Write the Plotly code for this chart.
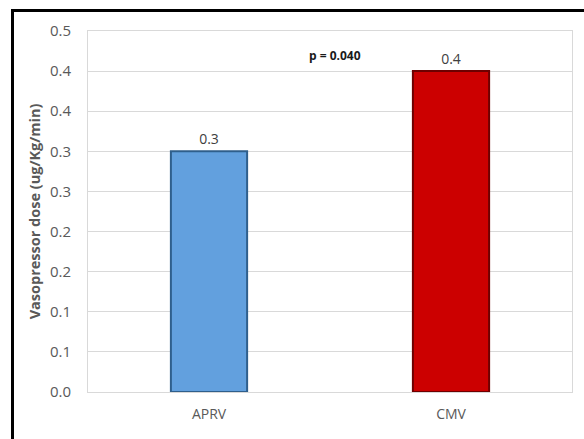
import plotly.graph_objects as go
from decimal import Decimal, ROUND_HALF_UP

# Mean vasopressor dose per ventilation mode
categories = ["APRV", "CMV"]
doses = [0.30, 0.40]
bar_colors = ["#62a0de", "#cc0000"]
edge_colors = ["#2f5f8c", "#6e0000"]

# Axis ticks every 0.05, labelled to one decimal (half-up rounding)
tick_values = [0.0, 0.05, 0.10, 0.15, 0.20, 0.25, 0.30, 0.35, 0.40, 0.45]
tick_labels = ["0.0", "0.1", "0.1", "0.2", "0.2", "0.3", "0.3", "0.4", "0.4", "0.5"]

p_value_text = "p = 0.040"


def one_decimal(v):
    return str(Decimal(str(v)).quantize(Decimal("0.1"), rounding=ROUND_HALF_UP))


font_family = "'Open Sans', sans-serif"
gray = "#595959"

fig = go.Figure(
    go.Bar(
        x=categories,
        y=doses,
        width=0.315,
        marker=dict(color=bar_colors, line=dict(color=edge_colors, width=2)),
        text=[one_decimal(v) for v in doses],
        textposition="outside",
        textfont=dict(family=font_family, size=14, color="#404040"),
        cliponaxis=False,
    )
)

fig.add_annotation(
    x=0.52, y=0.42, xref="x", yref="y",
    text=f"<b>{p_value_text}</b>",
    showarrow=False,
    font=dict(family=font_family, size=12, color="#1a1a1a"),
)

fig.update_layout(
    width=584,
    height=439,
    margin=dict(l=88, r=12, t=31, b=47),
    paper_bgcolor="white",
    plot_bgcolor="white",
    showlegend=False,
    bargap=0.685,
    uniformtext=dict(mode=False),
    shapes=[
        # heavy frame along the top and left of the figure
        dict(type="line", xref="paper", yref="paper",
             x0=-76 / 484, x1=1.05, y0=1 + 20.5 / 361, y1=1 + 20.5 / 361,
             line=dict(color="black", width=3)),
        dict(type="line", xref="paper", yref="paper",
             x0=-75.5 / 484, x1=-75.5 / 484, y0=-0.2, y1=1 + 22 / 361,
             line=dict(color="black", width=3)),
    ],
)

fig.update_xaxes(
    showline=True, linecolor="#d9d9d9", linewidth=1, mirror=True,
    tickfont=dict(family=font_family, size=14, color=gray),
    ticks="", showgrid=False, ticklabelstandoff=9,
)
fig.update_yaxes(
    range=[0, 0.45],
    tickvals=tick_values,
    ticktext=tick_labels,
    tickfont=dict(family=font_family, size=15, color=gray),
    showgrid=True, gridcolor="#d9d9d9", gridwidth=1,
    showline=True, linecolor="#d9d9d9", linewidth=1, mirror=True,
    zeroline=False,
    ticks="", ticklabelstandoff=13,
    title=dict(text="<b>Vasopressor dose (ug/Kg/min)</b>",
               font=dict(family=font_family, size=14.5, color=gray),
               standoff=5),
)

fig.write_html("out.html")
